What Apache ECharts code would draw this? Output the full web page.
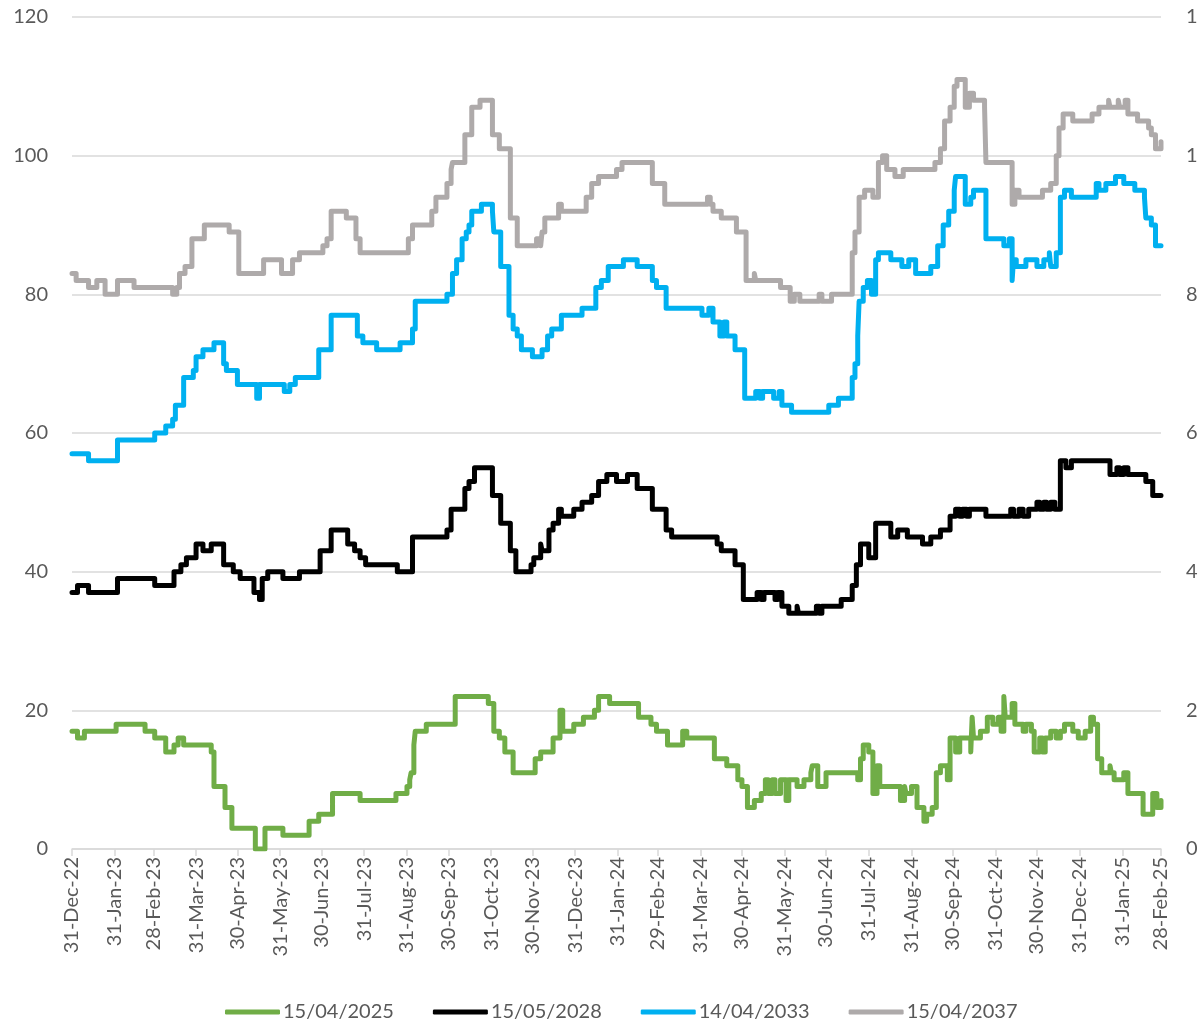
<!DOCTYPE html>
<html><head><meta charset="utf-8">
<script src="https://cdn.jsdelivr.net/npm/echarts@6/dist/echarts.min.js"></script>
<style>html,body{margin:0;padding:0;background:#fff;overflow:hidden}#c{width:1198px;height:1023px}</style>
</head><body><div id="c"></div><script>
const seriesNames = ['15/04/2025', '15/05/2028', '14/04/2033', '15/04/2037'];
const tickLabels = ['31-Dec-22','31-Jan-23','28-Feb-23','31-Mar-23','30-Apr-23','31-May-23','30-Jun-23','31-Jul-23','31-Aug-23','30-Sep-23','31-Oct-23','30-Nov-23','31-Dec-23','31-Jan-24','29-Feb-24','31-Mar-24','30-Apr-24','31-May-24','30-Jun-24','31-Jul-24','31-Aug-24','30-Sep-24','31-Oct-24','30-Nov-24','31-Dec-24','31-Jan-25','28-Feb-25'];
const leftTicks = [0, 20, 40, 60, 80, 100, 120];
const rightTicks = [0, 2, 4, 6, 8, 10, 12];

// each point: [date the level starts, value]
const s2025 = [['2022-12-31',17],['2023-01-04',16],['2023-01-09',17],['2023-02-01',18],['2023-02-22',17],['2023-03-01',16],['2023-03-09',14],['2023-03-15',15],['2023-03-18',16],['2023-03-22',15],['2023-04-11',14],['2023-04-13',9],['2023-04-21',6],['2023-04-26',3],['2023-05-13',0],['2023-05-20',3],['2023-06-02',2],['2023-06-21',4],['2023-06-28',5],['2023-07-08',8],['2023-07-28',7],['2023-08-23',8],['2023-08-31',9],['2023-09-02',10],['2023-09-03',11],['2023-09-05',15],['2023-09-06',17],['2023-09-14',18],['2023-10-05',22],['2023-10-29',21],['2023-11-02',17],['2023-11-06',16],['2023-11-10',14],['2023-11-16',11],['2023-12-02',13],['2023-12-06',14],['2023-12-15',16],['2023-12-20',20],['2023-12-22',17],['2023-12-30',18],['2024-01-06',19],['2024-01-14',20],['2024-01-17',22],['2024-01-25',21],['2024-02-15',19],['2024-02-24',18],['2024-02-28',17],['2024-03-07',15],['2024-03-18',17],['2024-03-21',16],['2024-04-10',13],['2024-04-19',12],['2024-04-27',10],['2024-04-30',9],['2024-05-04',6],['2024-05-09',7],['2024-05-14',8],['2024-05-17',10],['2024-05-19',8],['2024-05-22',10],['2024-05-24',8],['2024-05-28',10],['2024-06-01',7],['2024-06-03',10],['2024-06-09',9],['2024-06-14',10],['2024-06-19',11],['2024-06-20',12],['2024-06-24',9],['2024-06-30',11],['2024-07-23',10],['2024-07-25',13],['2024-07-27',15],['2024-07-31',14],['2024-08-03',8],['2024-08-06',12],['2024-08-08',9],['2024-08-23',7],['2024-08-26',9],['2024-08-27',8],['2024-08-31',9],['2024-09-04',6],['2024-09-09',4],['2024-09-11',5],['2024-09-15',6],['2024-09-18',11],['2024-09-21',12],['2024-09-26',10],['2024-09-28',16],['2024-10-02',14],['2024-10-05',16],['2024-10-13',14],['2024-10-14',19],['2024-10-15',16],['2024-10-20',17],['2024-10-25',19],['2024-10-29',18],['2024-11-02',19],['2024-11-04',17],['2024-11-06',22],['2024-11-07',19],['2024-11-12',21],['2024-11-14',18],['2024-11-20',17],['2024-11-22',18],['2024-11-26',17],['2024-11-28',14],['2024-12-02',16],['2024-12-04',14],['2024-12-06',16],['2024-12-10',17],['2024-12-14',16],['2024-12-17',17],['2024-12-20',18],['2024-12-26',17],['2024-12-30',16],['2025-01-04',17],['2025-01-08',19],['2025-01-10',18],['2025-01-13',13],['2025-01-16',11],['2025-01-22',12],['2025-01-23',11],['2025-01-25',10],['2025-02-01',11],['2025-02-04',8],['2025-02-15',5],['2025-02-22',8],['2025-02-25',6],['2025-02-28',7]];

const s2028 = [['2022-12-31',37],['2023-01-04',38],['2023-01-12',37],['2023-02-02',39],['2023-03-01',38],['2023-03-15',40],['2023-03-20',41],['2023-03-24',42],['2023-03-31',44],['2023-04-05',43],['2023-04-11',44],['2023-04-20',41],['2023-04-27',40],['2023-05-02',39],['2023-05-12',37],['2023-05-16',36],['2023-05-18',39],['2023-05-22',40],['2023-06-02',39],['2023-06-14',40],['2023-06-29',43],['2023-07-07',46],['2023-07-19',44],['2023-07-24',43],['2023-07-28',42],['2023-08-01',41],['2023-08-24',40],['2023-09-04',45],['2023-09-29',46],['2023-10-02',49],['2023-10-12',52],['2023-10-15',53],['2023-10-19',55],['2023-11-01',51],['2023-11-07',47],['2023-11-14',43],['2023-11-18',40],['2023-11-29',41],['2023-12-01',42],['2023-12-06',44],['2023-12-07',43],['2023-12-12',46],['2023-12-15',47],['2023-12-19',49],['2023-12-21',48],['2023-12-30',49],['2024-01-05',50],['2024-01-12',51],['2024-01-17',53],['2024-01-23',54],['2024-01-30',53],['2024-02-07',54],['2024-02-14',52],['2024-02-25',49],['2024-03-06',46],['2024-03-10',45],['2024-04-12',44],['2024-04-15',43],['2024-04-25',41],['2024-05-01',36],['2024-05-11',37],['2024-05-14',36],['2024-05-16',37],['2024-05-24',36],['2024-05-26',37],['2024-05-29',35],['2024-06-03',34],['2024-06-09',35],['2024-06-10',34],['2024-06-23',35],['2024-06-25',34],['2024-06-27',35],['2024-07-11',36],['2024-07-19',38],['2024-07-22',41],['2024-07-25',44],['2024-07-31',42],['2024-08-05',47],['2024-08-16',45],['2024-08-21',46],['2024-08-28',45],['2024-09-08',44],['2024-09-14',45],['2024-09-21',46],['2024-09-28',48],['2024-10-02',49],['2024-10-05',48],['2024-10-07',49],['2024-10-10',48],['2024-10-12',49],['2024-10-24',48],['2024-11-11',49],['2024-11-13',48],['2024-11-17',49],['2024-11-20',48],['2024-11-24',49],['2024-11-30',50],['2024-12-02',49],['2024-12-05',50],['2024-12-07',49],['2024-12-10',50],['2024-12-13',49],['2024-12-17',56],['2024-12-21',55],['2024-12-25',56],['2025-01-22',54],['2025-01-27',55],['2025-01-29',54],['2025-02-01',55],['2025-02-04',54],['2025-02-17',53],['2025-02-22',51],['2025-02-28',51]];

const s2033 = [['2022-12-31',57],['2023-01-12',56],['2023-02-02',59],['2023-03-01',60],['2023-03-09',61],['2023-03-14',62],['2023-03-16',64],['2023-03-22',68],['2023-03-29',69],['2023-03-31',71],['2023-04-05',72],['2023-04-13',73],['2023-04-20',70],['2023-04-22',69],['2023-04-30',67],['2023-05-14',65],['2023-05-16',67],['2023-06-03',66],['2023-06-07',67],['2023-06-11',68],['2023-06-28',72],['2023-07-07',77],['2023-07-26',74],['2023-07-30',73],['2023-08-09',72],['2023-08-26',73],['2023-09-04',75],['2023-09-06',79],['2023-09-29',80],['2023-10-03',83],['2023-10-06',85],['2023-10-10',88],['2023-10-13',89],['2023-10-15',90],['2023-10-17',92],['2023-10-24',93],['2023-11-01',92],['2023-11-02',89],['2023-11-07',84],['2023-11-13',77],['2023-11-16',75],['2023-11-19',74],['2023-11-22',72],['2023-11-30',71],['2023-12-07',72],['2023-12-11',74],['2023-12-14',75],['2023-12-21',77],['2024-01-05',78],['2024-01-15',81],['2024-01-19',82],['2024-01-24',84],['2024-02-04',85],['2024-02-14',84],['2024-02-25',82],['2024-02-28',81],['2024-03-06',78],['2024-04-01',77],['2024-04-06',78],['2024-04-09',76],['2024-04-14',74],['2024-04-17',76],['2024-04-19',74],['2024-04-25',72],['2024-05-02',65],['2024-05-10',66],['2024-05-13',65],['2024-05-15',66],['2024-05-23',65],['2024-05-27',66],['2024-05-29',64],['2024-06-05',63],['2024-07-02',64],['2024-07-09',65],['2024-07-19',68],['2024-07-21',70],['2024-07-23',74],['2024-07-24',79],['2024-07-27',81],['2024-07-30',82],['2024-08-02',80],['2024-08-05',85],['2024-08-07',86],['2024-08-16',85],['2024-08-24',84],['2024-08-29',85],['2024-09-03',83],['2024-09-14',84],['2024-09-19',87],['2024-09-23',90],['2024-09-27',92],['2024-10-01',95],['2024-10-02',97],['2024-10-09',93],['2024-10-13',94],['2024-10-15',95],['2024-10-24',88],['2024-11-06',87],['2024-11-10',88],['2024-11-12',82],['2024-11-13',85],['2024-11-15',84],['2024-11-22',85],['2024-11-30',84],['2024-12-05',85],['2024-12-09',86],['2024-12-10',84],['2024-12-14',86],['2024-12-17',94],['2024-12-20',95],['2024-12-25',94],['2025-01-12',96],['2025-01-14',95],['2025-01-19',96],['2025-01-26',97],['2025-02-01',96],['2025-02-09',95],['2025-02-16',94],['2025-02-17',91],['2025-02-21',90],['2025-02-24',87],['2025-02-28',87]];

const s2037 = [['2022-12-31',83],['2023-01-03',82],['2023-01-12',81],['2023-01-18',82],['2023-01-24',80],['2023-02-02',82],['2023-02-14',81],['2023-03-14',80],['2023-03-17',81],['2023-03-19',83],['2023-03-23',84],['2023-03-28',88],['2023-04-06',90],['2023-04-24',89],['2023-05-01',83],['2023-05-19',85],['2023-06-01',83],['2023-06-09',85],['2023-06-14',86],['2023-07-01',87],['2023-07-04',88],['2023-07-07',92],['2023-07-18',91],['2023-07-25',88],['2023-07-28',86],['2023-09-01',88],['2023-09-04',90],['2023-09-18',92],['2023-09-21',94],['2023-09-29',96],['2023-10-02',98],['2023-10-03',99],['2023-10-12',103],['2023-10-17',107],['2023-10-23',108],['2023-11-01',103],['2023-11-06',101],['2023-11-14',91],['2023-11-19',87],['2023-12-03',88],['2023-12-06',87],['2023-12-07',89],['2023-12-09',91],['2023-12-19',93],['2023-12-21',92],['2024-01-08',94],['2024-01-12',96],['2024-01-17',97],['2024-01-30',98],['2024-02-03',99],['2024-02-25',96],['2024-03-05',93],['2024-04-05',94],['2024-04-07',93],['2024-04-09',92],['2024-04-15',91],['2024-04-26',89],['2024-05-03',82],['2024-05-09',83],['2024-05-10',82],['2024-05-28',81],['2024-06-04',79],['2024-06-07',80],['2024-06-11',79],['2024-06-25',80],['2024-06-27',79],['2024-07-04',80],['2024-07-19',86],['2024-07-21',89],['2024-07-24',94],['2024-07-28',95],['2024-08-03',94],['2024-08-07',99],['2024-08-10',100],['2024-08-13',98],['2024-08-19',97],['2024-08-25',98],['2024-09-17',99],['2024-09-21',101],['2024-09-24',105],['2024-09-28',107],['2024-10-01',110],['2024-10-03',111],['2024-10-09',107],['2024-10-12',109],['2024-10-15',108],['2024-10-23',107],['2024-10-24',99],['2024-11-12',93],['2024-11-14',95],['2024-11-17',94],['2024-12-04',95],['2024-12-10',96],['2024-12-14',100],['2024-12-16',104],['2024-12-19',106],['2024-12-26',105],['2025-01-09',106],['2025-01-14',107],['2025-01-21',108],['2025-01-22',107],['2025-01-28',108],['2025-01-29',107],['2025-02-02',108],['2025-02-04',106],['2025-02-11',105],['2025-02-19',104],['2025-02-21',103],['2025-02-24',101],['2025-02-28',102]];

const seriesData = [s2025, s2028, s2033, s2037];
const seriesColors = ['#70AD47', '#000000', '#00B0F0', '#AEAAAA'];

const MON = {Jan:0,Feb:1,Mar:2,Apr:3,May:4,Jun:5,Jul:6,Aug:7,Sep:8,Oct:9,Nov:10,Dec:11};
function labelToTime(s){ const p = s.split('-'); return new Date(2000 + (+p[2]), MON[p[1]], +p[0]).getTime(); }
function isoToTime(s){ const p = s.split('-'); return new Date(+p[0], +p[1] - 1, +p[2]).getTime(); }
const tickTimes = tickLabels.map(labelToTime);
const labelByTime = {}; tickTimes.forEach((t,i)=>{ labelByTime[t] = tickLabels[i]; });

const FONT = 'Lato';
const TXT = '#595959';
const GRID = '#D9D9D9';

const chart = echarts.init(document.getElementById('c'), null, {renderer: 'canvas'});
chart.setOption({
  animation: false,
  backgroundColor: '#ffffff',
  textStyle: {fontFamily: FONT},
  grid: {left: 72, right: 37, top: 17, bottom: 174, containLabel: false, outerBoundsMode: 'none'},
  legend: {
    data: seriesNames,
    left: 220, top: 997,
    icon: 'roundRect',
    itemWidth: 55, itemHeight: 5, itemGap: 39,
    textStyle: {fontFamily: FONT, fontSize: 20, color: TXT, width: 113, padding: [0, 0, 0, -2]}
  },
  xAxis: {
    type: 'value',
    min: tickTimes[0], max: tickTimes[tickTimes.length - 1],
    axisLine: {show: true, lineStyle: {color: GRID, width: 1.5}},
    axisTick: {show: true, customValues: tickTimes, length: 7, lineStyle: {color: GRID, width: 1.5}},
    axisLabel: {
      customValues: tickTimes, rotate: 90, margin: 8,
      fontFamily: FONT, fontSize: 20, color: TXT,
      showMinLabel: true, showMaxLabel: true,
      formatter: function (v) { return labelByTime[v] || ''; }
    },
    splitLine: {show: false}
  },
  yAxis: [
    {
      type: 'value', min: leftTicks[0], max: leftTicks[leftTicks.length - 1], interval: leftTicks[1] - leftTicks[0],
      axisLine: {show: false}, axisTick: {show: false},
      axisLabel: {margin: 24, fontFamily: FONT, fontSize: 20, color: TXT},
      splitLine: {show: true, lineStyle: {color: GRID, width: 1.5}}
    },
    {
      type: 'value', position: 'right', min: rightTicks[0], max: rightTicks[rightTicks.length - 1], interval: rightTicks[1] - rightTicks[0],
      axisLine: {show: false}, axisTick: {show: false},
      axisLabel: {margin: 25, fontFamily: FONT, fontSize: 20, color: TXT},
      splitLine: {show: false}
    }
  ],
  series: seriesNames.map((n, i) => ({
    name: n, type: 'line', yAxisIndex: 0, step: 'end',
    data: seriesData[i].map(p => [isoToTime(p[0]), p[1]]),
    showSymbol: false, symbol: 'none',
    itemStyle: {color: seriesColors[i]},
    lineStyle: {width: 5, color: seriesColors[i], cap: 'round', join: 'round'},
    emphasis: {disabled: true}
  }))
});
</script></body></html>
